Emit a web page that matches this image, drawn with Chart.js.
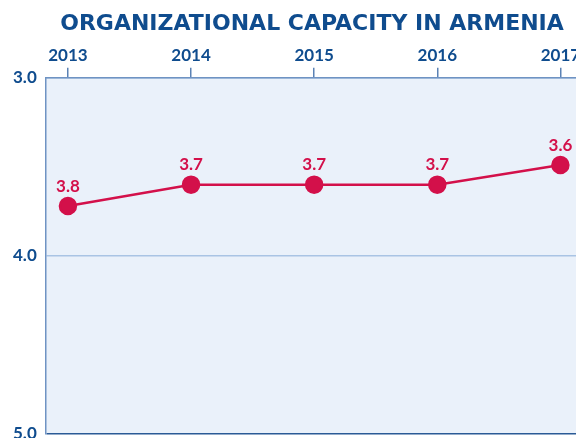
<!DOCTYPE html>
<html>
<head>
<meta charset="utf-8">
<script src="https://cdn.jsdelivr.net/npm/chart.js@4"></script>
<style>
html, body { margin: 0; padding: 0; overflow: hidden; background: #ffffff; }
#wrap { width: 630px; height: 460px; }
</style>
</head>
<body>
<div id="wrap"><canvas id="capacity_chart" width="630" height="460"></canvas></div>
<script>
// 데이터
var years = [2013, 2014, 2015, 2016, 2017];
var scores = [3.72, 3.6, 3.6, 3.6, 3.49];
var scoreLabels = ['3.8', '3.7', '3.7', '3.7', '3.6'];
var yTicks = [3, 4, 5];

var blue = '#0f4c8e';
var red = '#d3104a';

// 차트 영역 배경
var plotBgPlugin = {
	id: 'plotBg',
	beforeDraw(chart) {
		var a = chart.chartArea;
		var ctx = chart.ctx;
		ctx.save();
		ctx.fillStyle = '#eaf1fa';
		ctx.fillRect(a.left, a.top, a.right - a.left, a.bottom - a.top);
		ctx.restore();
	}
};

// 점 위 값 표시
var pointLabelPlugin = {
	id: 'pointLabels',
	afterDatasetsDraw(chart) {
		var ctx = chart.ctx;
		var meta = chart.getDatasetMeta(0);
		ctx.save();
		ctx.font = 'bold 17px Lato';
		ctx.fillStyle = red;
		ctx.textAlign = 'center';
		ctx.textBaseline = 'middle';
		meta.data.forEach(function (pt, i) {
			ctx.fillText(scoreLabels[i], pt.x, pt.y - 20);
		});
		ctx.restore();
	}
};

var myChart = new Chart(document.getElementById('capacity_chart'), {
	type: 'line',
	data: {
		datasets: [{
			data: years.map((y, i) => ({ x: y, y: scores[i] })),
			borderColor: red,
			borderWidth: 2.5,
			pointRadius: 8,
			pointBackgroundColor: red,
			pointBorderColor: red,
			fill: false
		}]
	},
	options: {
		responsive: false,
		animation: false,
		plugins: {
			legend: { display: false },
			tooltip: { enabled: false },
			title: {
				display: true,
				text: 'ORGANIZATIONAL CAPACITY IN ARMENIA',
				color: blue,
				font: { family: 'DejaVu Sans', size: 22, weight: 'bold' },
				padding: { top: 11, bottom: 6 }
			}
		},
		scales: {
			x: {
				type: 'linear',
				position: 'top',
				min: 2012.82,
				max: 2017.48,
				afterBuildTicks: function (axis) {
					axis.ticks = years.map(v => ({ value: v }));
				},
				ticks: {
					color: blue,
					font: { family: 'Lato', size: 17, weight: 'bold' },
					padding: 2,
					maxRotation: 0,
					callback: v => String(v)
				},
				grid: {
					drawOnChartArea: false,
					tickLength: 10,
					tickColor: '#5b82b5',
					lineWidth: 1.5
				},
				border: { color: '#6f93c3', width: 1.5 }
			},
			y: {
				reverse: true,
				min: 3,
				max: 5,
				afterBuildTicks: function (axis) {
					axis.ticks = yTicks.map(v => ({ value: v }));
				},
				ticks: {
					color: blue,
					font: { family: 'Lato', size: 17, weight: 'bold' },
					padding: 9,
					callback: v => v.toFixed(1)
				},
				grid: {
					drawTicks: false,
					lineWidth: 1.5,
					color: ctx => ctx.tick && ctx.tick.value === 5 ? '#2a5a96' : '#a9c4e4'
				},
				border: { color: '#6f93c3', width: 1.5 }
			}
		},
		layout: {
			padding: { left: 4, right: 10, top: 0, bottom: 26 }
		}
	},
	plugins: [plotBgPlugin, pointLabelPlugin]
});
</script>
</body>
</html>
